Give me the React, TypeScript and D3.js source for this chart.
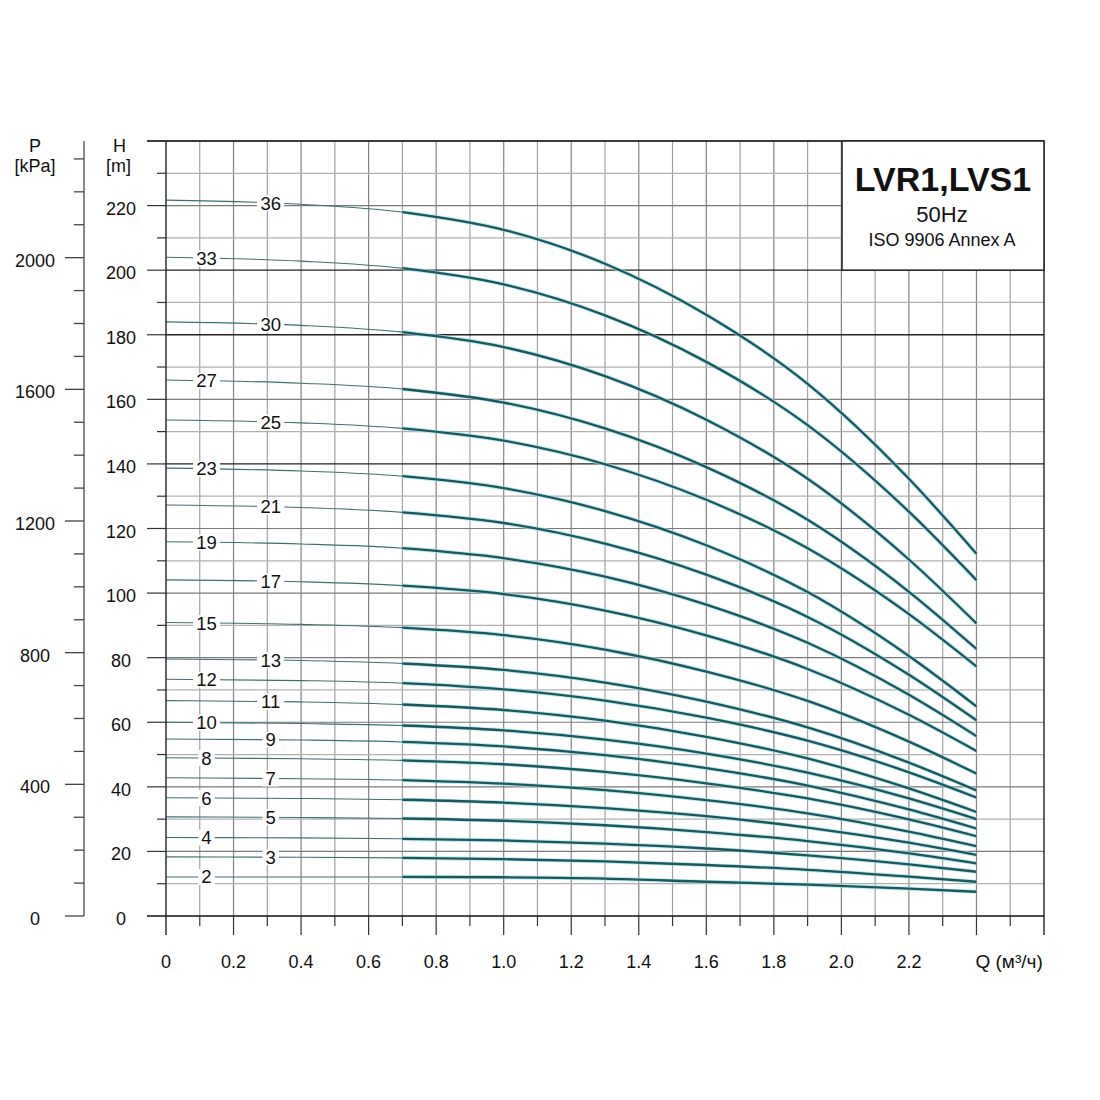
import React from 'react'
import * as d3 from 'd3'

// flow points (m³/h) where head values were read
const flowQ = [0, 0.4, 0.7, 1.0, 1.3, 1.6, 1.9, 2.2, 2.4]

// number of stages, top curve first
const stages = [36, 33, 30, 27, 25, 23, 21, 19, 17, 15, 13, 12, 11, 10, 9, 8, 7, 6, 5, 4, 3, 2]

// head H [m] at each flowQ, one row per stage count
const headCurves = [
  [221.7, 220.4, 218.0, 212.5, 202.0, 186.2, 164.8, 135.4, 112.2],
  [204.0, 202.8, 200.6, 195.6, 186.0, 171.6, 152.0, 125.2, 104.0],
  [184.0, 182.9, 180.8, 176.2, 167.2, 153.7, 135.4, 110.4, 90.6],
  [166.0, 165.0, 163.2, 159.0, 151.0, 139.0, 122.7, 100.4, 82.7],
  [153.6, 152.7, 151.0, 147.2, 139.9, 128.9, 113.9, 93.5, 77.3],
  [138.7, 137.8, 136.2, 132.5, 125.4, 114.8, 100.3, 80.5, 64.9],
  [127.3, 126.5, 125.0, 121.7, 115.3, 105.7, 92.6, 74.7, 60.6],
  [115.9, 115.2, 113.9, 110.8, 105.1, 96.4, 84.6, 68.5, 55.7],
  [104.1, 103.5, 102.3, 99.7, 94.6, 86.9, 76.5, 62.3, 51.1],
  [90.9, 90.3, 89.3, 87.0, 82.5, 75.7, 66.6, 54.0, 44.1],
  [79.6, 79.1, 78.2, 76.2, 72.3, 66.4, 58.4, 47.5, 38.9],
  [73.3, 72.9, 72.1, 70.2, 66.7, 61.4, 54.3, 44.5, 36.7],
  [66.7, 66.3, 65.5, 63.8, 60.5, 55.5, 48.8, 39.5, 32.2],
  [60.0, 59.6, 59.0, 57.5, 54.6, 50.3, 44.4, 36.4, 30.0],
  [54.8, 54.5, 53.9, 52.5, 49.8, 45.8, 40.4, 33.0, 27.1],
  [49.0, 48.7, 48.2, 47.0, 44.6, 41.1, 36.4, 29.9, 24.7],
  [42.8, 42.5, 42.1, 41.0, 39.0, 35.9, 31.8, 26.1, 21.6],
  [36.6, 36.4, 36.0, 35.1, 33.4, 30.9, 27.4, 22.7, 18.9],
  [30.7, 30.5, 30.2, 29.5, 28.1, 26.0, 23.2, 19.4, 16.3],
  [24.3, 24.2, 23.9, 23.4, 22.4, 20.9, 18.8, 16.0, 13.7],
  [18.3, 18.2, 18.0, 17.6, 16.9, 15.8, 14.3, 12.2, 10.6],
  [12.1, 12.1, 12.1, 12.0, 11.6, 10.6, 9.7, 8.5, 7.5],
]

// start of the recommended operating range
const opStartQ = 0.7

const qTickLabels = ['0', '0.2', '0.4', '0.6', '0.8', '1.0', '1.2', '1.4', '1.6', '1.8', '2.0', '2.2']
const hTickLabels = [0, 20, 40, 60, 80, 100, 120, 140, 160, 180, 200, 220]
const pTickLabels = [0, 400, 800, 1200, 1600, 2000]
const darkHLines = [140, 180, 200]

const FONT = '"Liberation Sans", Arial, Helvetica, sans-serif'

export default function App() {
  const x = d3.scaleLinear().domain([0, 2.6]).range([166, 1044])
  const y = d3.scaleLinear().domain([0, 240]).range([916, 141])
  // kPa axis shares the pixel range, 1 m water ~ 9.81 kPa
  const p = d3.scaleLinear().domain([0, 240 * 9.81]).range([916, 141])

  const line = d3
    .line<[number, number]>()
    .x(d => x(d[0]))
    .y(d => y(d[1]))
    .curve(d3.curveMonotoneX)

  const qMinor = d3.range(0, 27).map(i => i / 10)
  const hMinor = d3.range(0, 25).map(i => i * 10)
  const pMinor = d3.range(0, 24).map(i => i * 100)

  return (
    <svg width={1100} height={1100} style={{ position: 'absolute', left: 0, top: 0, background: '#fff' }} fontFamily={FONT}>
      <rect width={1100} height={1100} fill="#fff" />

      {/* grid */}
      {qMinor.filter(q => q > 0 && q < 2.6).map(q => (
        <line key={'vg' + q} x1={x(q)} x2={x(q)} y1={y(240)} y2={y(0)}
          stroke={Math.round(q * 10) % 2 === 0 ? '#838383' : '#a2a2a2'} strokeWidth={1.2} />
      ))}
      {hMinor.filter(h => h > 0).map(h => (
        <line key={'hg' + h} x1={x(0)} x2={x(2.6)} y1={y(h)} y2={y(h)}
          stroke={darkHLines.includes(h) ? '#222' : h % 20 === 0 ? '#7a7a7a' : '#b0b0b0'}
          strokeWidth={darkHLines.includes(h) ? 1.3 : 1.2} />
      ))}

      {/* curves */}
      {headCurves.map((hs, i) => {
        const pts: [number, number][] = flowQ.map((q, j) => [q, hs[j]])
        const op = pts.filter(d => d[0] >= opStartQ)
        return (
          <g key={'c' + stages[i]}>
            <path d={line(pts) || ''} fill="none" stroke="#3c6f74" strokeWidth={1.1} />
            <path d={line(op) || ''} fill="none" stroke="#9fe3ea" strokeWidth={4.2} strokeOpacity={0.7} />
            <path d={line(op) || ''} fill="none" stroke="#1c575d" strokeWidth={2.3} />
          </g>
        )
      })}

      {/* stage labels */}
      {headCurves.map((hs, i) => {
        const lq = i % 2 === 0 ? 0.31 : 0.12
        const lh = d3.scaleLinear().domain(flowQ).range(hs)(lq)
        const txt = String(stages[i])
        const w = txt.length * 10.5 + 6
        return (
          <g key={'l' + stages[i]}>
            <rect x={x(lq) - w / 2} y={y(lh) - 8} width={w} height={16} fill="#fff" />
            <text x={x(lq)} y={y(lh) + 6.5} textAnchor="middle" fontSize={18.5} fill="#111">{txt}</text>
          </g>
        )
      })}

      {/* frame */}
      <line x1={147} x2={x(2.6)} y1={y(240)} y2={y(240)} stroke="#111" strokeWidth={1.5} />
      <line x1={147} x2={x(2.6)} y1={y(0)} y2={y(0)} stroke="#111" strokeWidth={1.5} />
      <line x1={x(0)} x2={x(0)} y1={y(240)} y2={y(0) + 19} stroke="#222" strokeWidth={1.4} />
      <line x1={x(2.6)} x2={x(2.6)} y1={y(240)} y2={y(0) + 19} stroke="#222" strokeWidth={1.4} />

      {/* H axis ticks */}
      {hMinor.filter(h => h > 0).map(h => (
        <line key={'ht' + h} x1={h % 20 === 0 ? 147 : 157} x2={x(0)} y1={y(h)} y2={y(h)} stroke="#333" strokeWidth={1.2} />
      ))}
      {hTickLabels.map(h => (
        <text key={'hl' + h} x={121} y={y(h) + 9} textAnchor="middle" fontSize={18} fill="#111">{h}</text>
      ))}

      {/* Q axis ticks */}
      {qMinor.filter(q => q > 0 && q < 2.6).map(q => (
        <line key={'qt' + q} x1={x(q)} x2={x(q)} y1={y(0)} y2={y(0) + (Math.round(q * 10) % 2 === 0 ? 19 : 10)} stroke="#333" strokeWidth={1.2} />
      ))}
      {qTickLabels.map((t, i) => (
        <text key={'ql' + t} x={x(i * 0.2)} y={968} textAnchor="middle" fontSize={18} fill="#111">{t}</text>
      ))}
      <text x={x(2.4) - 1} y={968} fontSize={19} fill="#111">Q (м³/ч)</text>

      {/* P axis */}
      <line x1={84} x2={84} y1={y(240)} y2={p(0)} stroke="#555" strokeWidth={1.4} />
      {pMinor.map(v => (
        <line key={'pt' + v} x1={v % 400 === 0 ? 65 : 74} x2={84} y1={p(v)} y2={p(v)} stroke="#444" strokeWidth={1.3} />
      ))}
      {pTickLabels.map(v => (
        <text key={'pl' + v} x={35} y={p(v) + 9} textAnchor="middle" fontSize={18} fill="#111">{v}</text>
      ))}

      {/* axis titles */}
      <text x={35} y={152} textAnchor="middle" fontSize={18} fill="#111">P</text>
      <text x={35} y={172} textAnchor="middle" fontSize={18} fill="#111">[kPa]</text>
      <text x={119.5} y={152} textAnchor="middle" fontSize={18} fill="#111">H</text>
      <text x={118.5} y={172} textAnchor="middle" fontSize={18} fill="#111">[m]</text>

      {/* model box */}
      <rect x={842} y={y(240)} width={x(2.6) - 842} height={y(200) - y(240)} fill="#fff" stroke="#222" strokeWidth={1.5} />
      <text x={943} y={191} textAnchor="middle" fontSize={34} fontWeight="bold" fill="#111">LVR1,LVS1</text>
      <text x={942} y={222} textAnchor="middle" fontSize={22} fill="#111">50Hz</text>
      <text x={942} y={246} textAnchor="middle" fontSize={18} fill="#111">ISO 9906 Annex A</text>
    </svg>
  )
}
